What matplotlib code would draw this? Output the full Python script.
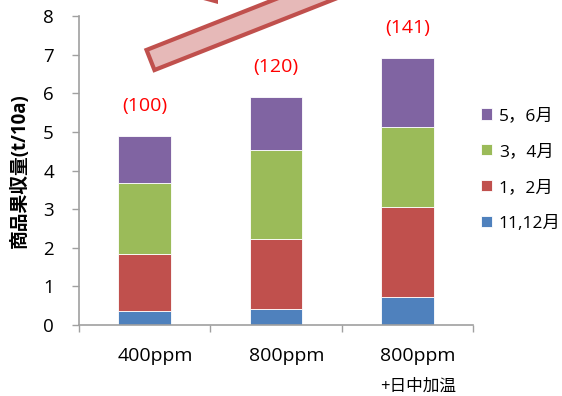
import matplotlib.pyplot as plt
import numpy as np
from matplotlib.patches import Polygon

plt.rcParams['font.family'] = ['Open Sans', 'Noto Sans CJK JP', 'DejaVu Sans']

# data
categories = ['400ppm', '800ppm', '800ppm']
sub_labels = ['', '', '+日中加温']
series_names = ['11,12月', '1，2月', '3，4月', '5，6月']
nov_dec = [0.37, 0.41, 0.73]
jan_feb = [1.47, 1.82, 2.33]
mar_apr = [1.84, 2.30, 2.07]
may_jun = [1.22, 1.38, 1.78]
index_labels = ['(100)', '(120)', '(141)']

colors = ['#4F81BD', '#C0504D', '#9BBB59', '#8064A2']
axis_gray = '#A0A0A0'

W, H = 562, 396
fig = plt.figure(figsize=(W / 100, H / 100), dpi=100)
ax = fig.add_axes([79 / W, 1 - 325 / H, (473 - 79) / W, (325 - 16) / H])

x = np.arange(len(categories))
bottom = np.zeros(len(categories))
handles = []
for vals, c, name in zip([nov_dec, jan_feb, mar_apr, may_jun], colors, series_names):
    b = ax.bar(x, vals, 0.4, bottom=bottom, color=c, edgecolor='white',
               linewidth=0.6, label=name)
    handles.append(b)
    bottom = bottom + np.array(vals)

# index labels above bars
for xi, top, lab in zip(x, bottom, index_labels):
    ax.text(xi, top + 0.78, lab, ha='center', va='center', color='#FF0000', fontsize=14)

ax.set_xlim(-0.5, len(categories) - 0.5)
ax.set_ylim(0, 8)
ax.set_yticks(range(0, 9))
ax.tick_params(axis='y', length=5, width=1, color=axis_gray, labelsize=13.5, pad=13)
ax.set_xticks(np.arange(-0.5, len(categories), 1.0))
ax.set_xticklabels([])
ax.tick_params(axis='x', direction='out', length=5, width=1, color=axis_gray)

for s in ['top', 'right']:
    ax.spines[s].set_visible(False)
for s in ['left', 'bottom']:
    ax.spines[s].set_color(axis_gray)
    ax.spines[s].set_linewidth(1.2)

# category labels
trans = ax.get_xaxis_transform()
for xi, lab, sub in zip(x, categories, sub_labels):
    ax.text(xi + 0.08, -0.1, lab, transform=trans, ha='center', va='center', fontsize=14)
    if sub:
        ax.text(xi + 0.08, -0.2, sub, transform=trans, ha='center', va='center', fontsize=12)

ax.set_ylabel('商品果収量(t/10a)', fontsize=13.5, fontweight='bold')
ax.yaxis.set_label_coords(-0.125, 0.5)

ax.legend(handles[::-1], series_names[::-1], loc='upper left',
          bbox_to_anchor=(481 / W, 1 - 108 / H), bbox_transform=fig.transFigure,
          frameon=False, fontsize=12.5, handlelength=0.62, handleheight=0.62,
          handletextpad=0.4, labelspacing=1.15, borderpad=0, borderaxespad=0)

# decorative arrow shaft (cut off at the top)
th = np.radians(21.5)
u = np.array([np.cos(th), -np.sin(th)])
n = np.array([np.sin(th), np.cos(th)])
S = np.array([150.5, 60.0])
hw, L = 10.8, 320
pts = [S - hw * n, S - hw * n + L * u, S + hw * n + L * u, S + hw * n]
pts = [(p[0] / W, 1 - p[1] / H) for p in pts]
fig.patches.append(Polygon(pts, closed=True, transform=fig.transFigure,
                           facecolor='#E6B9B8', edgecolor='#C0504D', linewidth=3, zorder=5))
sliver = [(196, -2), (218, -2), (218, 4)]
sliver = [(p[0] / W, 1 - p[1] / H) for p in sliver]
fig.patches.append(Polygon(sliver, closed=True, transform=fig.transFigure,
                           facecolor='#C0504D', edgecolor='none', zorder=5))

fig.savefig('out.png', dpi=100)
